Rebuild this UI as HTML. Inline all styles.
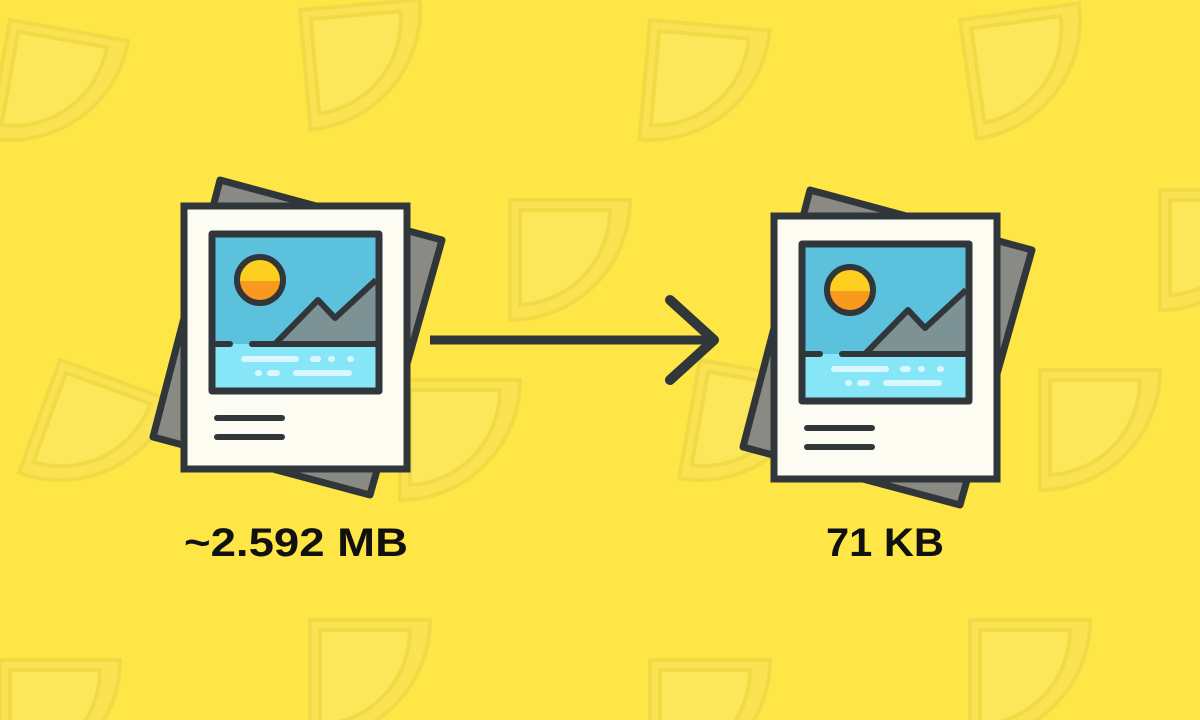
<!DOCTYPE html>
<html><head><style>html,body{margin:0;padding:0;background:#fde645;width:1200px;height:720px;overflow:hidden;}svg{display:block;position:absolute;left:0;top:0}</style></head>
<body>
<svg width="1200" height="720" viewBox="0 0 1200 720" xmlns="http://www.w3.org/2000/svg">
<defs>
<g id="slice" fill="#f7e062" stroke="#e6cf4a" stroke-width="4" opacity="0.9">
<path d="M0,0 L120,0 A120,120 0 0 1 0,120 Z"/>
<path d="M10,10 L100,10 A95,95 0 0 1 10,105 Z" fill="#fbe970"/>
</g>
<g id="icon">
<polygon points="220,180 442,240 370,495 153,437" fill="#8a8a84" stroke="#30363a" stroke-width="7" stroke-linejoin="round"/>
<rect x="184" y="206" width="223" height="263" fill="#fdfcf2" stroke="#30363a" stroke-width="7"/>
<rect x="215" y="237" width="161" height="151" fill="#5bc1dc"/>
<rect x="215" y="344" width="161" height="44" fill="#86e6f8"/>
<polygon points="275,344 318,300 335,318 376,284 376,344" fill="#7d9294"/>
<polyline points="275,344 318,300 335,318 376,280" fill="none" stroke="#30363a" stroke-width="6" stroke-linejoin="round"/>
<line x1="215" y1="344" x2="230" y2="344" stroke="#30363a" stroke-width="6" stroke-linecap="round"/>
<line x1="252" y1="344" x2="376" y2="344" stroke="#30363a" stroke-width="6" stroke-linecap="round"/>
<circle cx="260" cy="280" r="23" fill="#fdd01f"/>
<path d="M237,281 A23,23 0 0 0 283,281 Z" fill="#f99a1e"/>
<circle cx="260" cy="280" r="23" fill="none" stroke="#30363a" stroke-width="6"/>
<g stroke="#d8f7ff" stroke-width="6" stroke-linecap="round">
<line x1="244" y1="359" x2="296" y2="359"/><line x1="313" y1="359" x2="318" y2="359"/><line x1="331" y1="359" x2="332" y2="359"/><line x1="350" y1="359" x2="351" y2="359"/>
<line x1="258" y1="373" x2="259" y2="373"/><line x1="270" y1="373" x2="277" y2="373"/><line x1="296" y1="373" x2="349" y2="373"/>
</g>
<rect x="212" y="234" width="167" height="157" fill="none" stroke="#30363a" stroke-width="7" stroke-linejoin="round"/>
<line x1="217" y1="418" x2="282" y2="418" stroke="#30363a" stroke-width="6" stroke-linecap="round"/>
<line x1="217" y1="437" x2="282" y2="437" stroke="#30363a" stroke-width="6" stroke-linecap="round"/>
</g>
</defs>
<g opacity="0.55">
<use href="#slice" transform="translate(10,20) rotate(10)"/>
<use href="#slice" transform="translate(300,10) rotate(-5)"/>
<use href="#slice" transform="translate(650,20) rotate(5)"/>
<use href="#slice" transform="translate(960,20) rotate(-8)"/>
<use href="#slice" transform="translate(510,200) rotate(0)"/>
<use href="#slice" transform="translate(60,360) rotate(20)"/>
<use href="#slice" transform="translate(400,380) rotate(0)"/>
<use href="#slice" transform="translate(1040,370) rotate(0)"/>
<use href="#slice" transform="translate(700,360) rotate(10)"/>
<use href="#slice" transform="translate(310,620) rotate(0)"/>
<use href="#slice" transform="translate(650,660) rotate(0)"/>
<use href="#slice" transform="translate(970,620) rotate(0)"/>
<use href="#slice" transform="translate(0,660) rotate(0)"/>
<use href="#slice" transform="translate(1160,190) rotate(0)"/>
</g>
<use href="#icon"/>
<use href="#icon" transform="translate(590,10)"/>
<line x1="430" y1="340" x2="712" y2="340" stroke="#30363a" stroke-width="9"/>
<polyline points="670,300 714,340 670,380" fill="none" stroke="#30363a" stroke-width="10" stroke-linecap="round" stroke-linejoin="round"/>
<text x="296" y="556" text-anchor="middle" font-family="Liberation Sans, sans-serif" font-weight="bold" font-size="40" fill="#111" textLength="224" lengthAdjust="spacingAndGlyphs">~2.592 MB</text>
<text x="885" y="556" text-anchor="middle" font-family="Liberation Sans, sans-serif" font-weight="bold" font-size="40" fill="#111" textLength="118" lengthAdjust="spacingAndGlyphs">71 KB</text>
</svg>
</body></html>
